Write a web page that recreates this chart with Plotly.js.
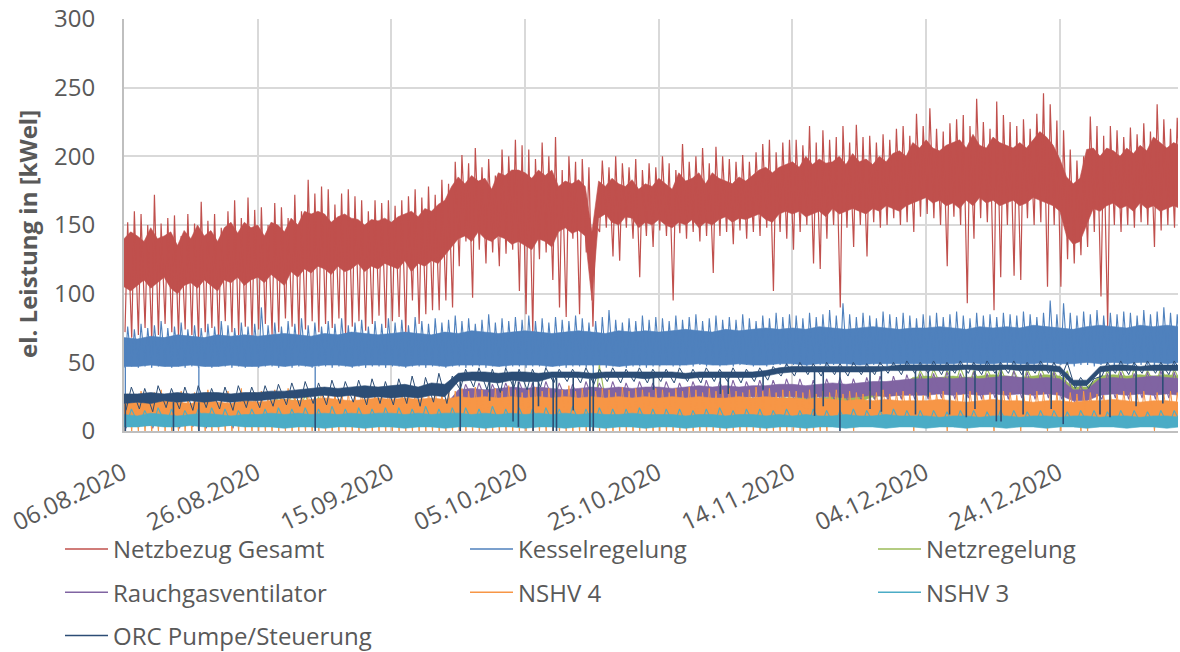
<!DOCTYPE html>
<html><head><meta charset="utf-8">
<script src="https://cdn.plot.ly/plotly-3.0.1.min.js"></script>
<style>html,body{margin:0;padding:0;background:#fff}#chart{width:1180px;height:652px}</style>
</head><body><div id="chart"></div>
<script>
// ---- data (kW el.) ----
const seriesNames = ['Netzbezug Gesamt','Kesselregelung','Netzregelung','Rauchgasventilator','NSHV 4','NSHV 3','ORC Pumpe/Steuerung'];
const seriesColors = ['#C0504D','#4F81BD','#9BBB59','#8064A2','#F79646','#4BACC6','#2C4D75'];
const startDay = '2020-08-06';
const xTickDates = ['06.08.2020','26.08.2020','15.09.2020','05.10.2020','25.10.2020','14.11.2020','04.12.2020','24.12.2020'];

// Netzbezug Gesamt: daily peak, upper band edge, lower band edge, daily minimum
const netzPeak = [152,160,158,150,172,151,155,157,142,158,151,167,153,158,148,160,168,155,170,161,163,150,166,163,155,172,160,183,173,178,176,165,173,176,171,168,160,168,166,168,164,168,171,176,170,178,172,183,180,196,201,195,206,192,198,186,205,200,212,208,205,198,210,200,214,190,200,196,198,192,150,197,192,200,195,192,198,190,195,192,200,195,190,209,196,200,206,195,207,200,198,196,201,196,203,209,212,203,210,212,212,208,222,210,219,212,214,222,210,223,214,215,210,216,212,220,222,215,231,222,235,220,218,224,227,230,222,242,225,220,240,230,225,222,227,220,231,246,238,226,219,205,197,200,229,222,215,222,219,214,221,216,224,218,238,227,220,228,224];
const netzHigh = [140,145,142,138,148,140,142,145,135,146,140,150,142,146,138,148,152,144,152,148,150,142,152,150,145,155,150,160,158,160,158,152,156,158,155,154,150,154,153,155,152,156,158,160,156,162,160,165,168,178,185,180,186,182,184,176,188,186,190,190,188,184,190,186,190,178,182,180,183,178,145,182,178,184,180,178,183,176,180,178,184,180,176,188,182,184,188,180,188,184,182,180,185,182,186,190,192,188,192,194,196,192,200,194,198,195,196,200,194,202,196,198,194,200,196,202,204,200,210,206,212,206,204,208,210,212,206,216,208,206,214,210,208,206,210,206,212,218,214,208,198,185,180,184,205,206,200,206,204,200,206,202,208,204,214,210,206,210,208];
const netzLow = [105,102,106,110,104,108,112,104,100,106,108,104,110,106,102,110,108,112,106,110,112,108,114,110,106,116,112,118,115,120,118,114,120,116,118,122,116,120,118,122,120,118,124,116,122,120,124,122,128,134,140,142,138,145,140,138,142,140,136,138,135,132,140,138,134,145,148,144,146,142,95,155,158,152,150,156,155,148,152,150,154,150,148,152,150,154,148,152,150,154,156,152,155,154,156,158,154,152,158,160,158,160,156,158,160,156,162,158,160,162,160,158,162,160,164,162,160,164,166,168,170,166,168,164,166,162,168,164,170,166,168,164,166,168,164,166,170,168,166,164,160,142,136,138,150,162,160,164,166,162,164,160,166,162,164,160,162,164,162];
const netzMin = [72,68,70,75,66,70,78,72,69,74,70,66,72,75,68,80,72,70,76,69,74,78,70,72,82,76,70,74,80,72,78,75,82,70,76,80,73,78,84,75,80,83,71,95,78,85,88,88,95,90,120,138,97,132,122,130,120,129,132,102,85,71,125,130,110,90,83,140,85,130,76,145,148,127,124,148,140,112,142,134,146,142,95,144,140,145,138,142,115,142,145,136,146,140,145,142,148,102,145,140,132,145,150,122,118,140,150,90,148,134,150,127,152,148,150,155,150,152,145,156,158,155,150,120,156,150,93,140,155,152,88,112,150,113,110,155,150,152,105,150,105,125,122,128,134,145,98,76,150,145,150,148,152,150,134,146,150,148,152];

// Kesselregelung: band every 2 days, daily peak / minimum, short drop-outs
const kesselHigh = [68,67,69,68,70,69,68,70,69,70,69,70,71,70,69,71,70,72,71,70,71,72,71,70,72,71,73,72,71,72,73,72,71,72,73,72,71,73,72,73,72,73,74,73,72,74,73,74,75,74,75,74,76,75,74,75,76,75,74,75,75,76,75,74,76,75,76,75,77,76,75,74,76,77,76,75,77,76,77,76];
const kesselLow = [47,47,48,47,47,48,47,47,48,47,47,48,47,48,47,48,48,47,48,48,48,47,48,48,47,48,48,48,47,48,48,48,47,48,48,48,48,47,48,48,48,48,48,49,48,48,49,48,48,49,49,48,49,49,49,48,49,49,49,49,49,49,49,50,49,49,50,49,49,50,49,49,50,49,50,49,50,50,49,50];
const kesselPeak = [76,74,78,75,77,80,75,76,79,74,77,75,78,76,80,77,75,79,76,78,90,77,79,76,80,78,82,77,79,76,80,78,82,77,79,81,76,80,78,82,79,81,77,83,80,78,82,79,81,84,80,82,78,81,85,79,82,80,83,81,84,80,82,79,83,81,80,84,82,79,80,83,88,81,79,82,80,84,81,83,82,80,84,81,83,85,80,82,84,81,83,81,85,82,80,84,82,86,83,85,84,82,86,83,85,88,84,93,85,83,86,84,82,87,85,83,86,84,82,85,84,86,83,85,87,84,82,86,84,85,83,86,85,84,87,85,83,86,95,85,93,86,84,87,85,88,84,86,85,87,86,84,88,85,87,90,86,85,84];
const kesselMin = [46,47,46,47,46,47,47,46,47,46,47,46,47,46,47,47,46,47,46,47,46,47,47,46,47,46,47,47,46,47,47,46,47,47,46,47,46,47,47,46,47,47,46,47,47,46,47,47,46,47,47,46,47,47,46,47,47,46,47,47,46,47,47,46,47,47,46,47,47,46,47,47,46,47,47,46,47,47,46,47,47,48,47,47,48,47,48,47,48,47,48,47,48,48,47,48,47,48,48,47,48,48,47,48,48,47,48,48,47,48,48,47,48,48,47,48,48,47,48,48,48,48,47,48,48,47,48,48,47,48,48,47,48,48,47,48,48,47,48,48,48,48,47,48,48,47,48,48,47,48,48,47,48,48,47,48,48,47,48];
const kesselDropDays = [0.2, 11.2, 28.6, 70.2];
const kesselDropVals = [0, 0, 2, 35];

// Netzregelung: every 2 days
const netzrHigh = [12,11,12,13,12,11,12,13,12,12,13,22,23,22,21,16,15,16,15,16,16,15,16,16,15,22,23,22,23,22,23,22,23,22,23,22,23,22,23,22,23,22,23,22,23,22,23,24,23,24,24,25,24,25,26,27,30,31,31,39,40,39,40,39,40,41,40,39,40,41,40,32,32,40,41,40,41,40,41,40];
const netzrLow = [7,6,7,8,7,6,7,8,7,7,8,17,18,17,16,10,9,10,9,10,10,9,10,10,9,16,17,16,17,16,17,16,17,16,17,16,17,16,17,16,17,16,17,16,17,16,17,18,17,18,18,19,18,19,20,21,25,26,26,34,35,34,35,34,35,36,35,34,35,36,35,27,27,35,36,35,36,35,36,35];
const netzrPeak = [15,14,15,16,15,14,15,16,15,15,16,26,27,26,25,19,18,19,18,19,19,18,19,19,18,26,27,26,27,26,27,26,27,26,27,48,27,26,27,26,27,26,27,26,27,26,27,28,27,28,28,29,28,29,30,31,33,34,34,44,45,44,46,44,45,46,44,45,46,44,44,34,34,44,46,45,44,46,45,44];
const netzrMin = [5,4,5,6,5,4,5,6,5,5,6,15,16,15,14,8,7,8,7,8,8,7,8,8,7,14,15,14,15,14,15,14,15,14,15,3,15,14,15,14,15,14,15,14,15,14,15,16,15,16,16,17,16,17,18,19,23,24,24,32,33,32,33,32,33,34,33,32,33,34,33,25,25,33,34,33,34,33,34,33];

// Rauchgasventilator: every 2 days
const rauchHigh = [12,13,12,14,13,12,14,13,12,14,13,14,15,14,15,16,15,16,15,16,16,15,17,16,18,30,31,30,31,32,31,32,31,30,31,32,31,32,31,32,32,31,32,33,32,33,32,33,33,34,34,33,34,35,34,35,36,36,37,38,38,39,38,39,38,39,40,39,38,39,38,30,30,38,39,38,39,40,39,38];
const rauchLow = [4,5,4,5,4,5,4,5,4,5,5,6,5,6,5,6,6,5,6,6,6,5,6,6,5,23,24,23,24,24,24,23,24,24,23,24,24,23,24,24,24,24,23,24,24,24,24,25,24,25,25,24,25,25,24,25,26,25,26,26,26,27,26,27,26,27,26,27,26,27,26,22,22,26,27,26,27,26,27,26];
const rauchPeak = [16,17,15,18,16,17,18,16,17,18,17,18,19,18,19,20,19,20,19,20,20,19,21,20,22,34,35,34,35,36,35,36,35,34,36,35,36,35,36,35,36,35,36,37,36,37,36,37,37,38,38,37,38,39,38,39,40,40,41,42,42,43,42,43,42,43,44,43,42,43,42,33,33,42,43,42,43,44,43,42];
const rauchMin = [2,3,2,3,2,3,2,3,2,3,3,4,3,4,3,4,4,3,4,4,4,3,4,4,3,20,21,20,21,21,21,20,21,21,20,21,21,20,21,21,21,21,20,21,21,21,21,22,21,22,22,21,22,22,21,22,23,22,23,23,23,24,23,24,23,24,23,24,23,24,23,19,19,23,24,23,24,23,24,23];

// NSHV 4: band every 2 days, daily peak / night minimum
const nshv4High = [20,21,20,22,21,20,22,21,20,22,21,22,23,22,23,24,23,22,23,24,23,24,23,24,23,25,24,25,24,25,24,25,24,25,24,25,24,25,24,25,24,25,24,25,24,24,25,24,25,24,24,23,24,23,22,23,22,23,22,22,22,23,22,21,22,23,22,22,21,22,22,21,22,22,23,22,21,22,22,21];
const nshv4Low = [8,9,8,9,8,9,8,9,8,9,9,10,9,10,9,10,10,9,10,10,10,9,10,10,9,10,10,10,9,10,10,10,9,10,10,10,10,9,10,10,10,10,10,9,10,10,9,10,10,9,9,9,9,8,9,9,8,9,9,9,9,9,8,9,9,9,8,9,9,8,9,9,8,9,9,9,8,9,9,9];
const nshv4Peak = [27,25,29,26,28,30,26,27,29,25,28,26,30,27,25,29,27,31,26,28,29,27,30,28,31,27,29,30,28,32,30,28,31,29,27,32,29,30,28,31,29,31,28,30,32,29,31,28,30,29,31,29,32,30,28,31,29,33,30,28,30,32,29,31,28,30,33,29,31,30,29,31,30,28,32,29,31,30,28,31,30,28,31,29,32,30,28,31,29,30,31,29,28,30,32,29,31,28,30,29,29,28,30,27,29,28,30,27,29,28,27,29,28,30,27,28,29,27,28,26,28,27,29,26,28,27,29,28,26,28,27,29,28,26,28,27,29,28,27,28,26,28,27,29,28,27,26,28,27,29,28,27,29,26,28,27,29,28,27];
const nshv4Min = [0,0,0,0,0,0,0,0,0,0,0,0,0,0,0,0,0,0,0,0,0,0,0,0,0,0,0,0,0,0,0,0,0,0,0,0,0,0,0,0,0,0,0,0,0,0,0,0,0,0,0,0,0,0,0,0,0,0,0,0,0,0,0,0,0,0,0,0,0,0,0,0,0,0,0,0,0,0,0,0,0,0,0,0,0,0,0,0,0,0,0,0,0,0,0,0,0,0,0,0,0,0,0,0,0,0,6,7,6,0,7,6,7,6,7,6,7,6,0,7,6,7,6,0,7,6,0,7,6,7,0,6,7,6,0,7,6,7,0,6,0,7,6,0,0,7,6,7,6,7,6,7,6,7,0,6,7,6,7];

// NSHV 3: every 2 days
const nshv3High = [12,11,13,12,11,12,13,12,11,12,12,13,12,13,12,13,12,13,12,13,13,12,13,12,13,13,12,13,12,13,12,13,12,13,12,13,12,12,13,12,12,12,11,12,12,11,12,12,11,12,11,12,11,11,12,11,11,12,11,11,11,10,11,11,10,11,11,10,11,11,10,11,11,10,11,11,10,11,11,10];
const nshv3Low = [3,3,4,3,3,4,3,3,4,3,3,3,2,3,3,2,3,3,2,3,3,2,3,3,2,3,3,2,3,3,2,3,3,2,3,3,2,3,3,2,3,3,2,3,3,2,3,3,2,3,3,2,3,3,2,3,3,2,3,3,2,3,3,2,3,3,2,3,3,2,3,3,2,3,3,2,3,3,2,3];
const nshv3Peak = [16,15,17,16,15,16,17,16,15,16,16,17,16,17,16,18,16,17,16,17,17,16,18,16,17,17,16,18,16,17,16,17,16,18,16,17,16,16,17,16,16,16,15,16,17,15,16,16,15,16,15,16,15,15,16,15,15,16,15,15,15,14,15,15,14,15,15,14,15,15,14,15,15,14,15,15,14,15,15,14];
const nshv3Min = [3,4,3,4,3,4,3,4,3,4,4,3,4,3,4,3,4,3,4,3,3,4,3,4,3,3,4,3,4,3,4,3,4,3,4,3,4,3,3,4,3,4,3,4,3,4,3,4,3,4,4,3,4,3,4,3,4,3,4,3,3,4,3,4,3,3,4,3,4,3,4,3,4,3,4,3,4,3,3,4];

// ORC Pumpe/Steuerung: every 2 days, plus drop-outs
const orcHigh = [27,27,28,27,28,27,28,28,27,28,28,29,29,30,31,32,31,32,33,32,33,34,32,35,34,42,43,43,42,43,43,42,43,43,43,42,43,43,43,43,43,43,42,43,43,43,43,43,44,46,47,47,47,47,47,47,47,47,48,48,48,48,48,48,48,48,48,48,48,48,47,37,37,47,48,48,47,48,48,48];
const orcLow = [20,21,20,22,21,22,21,22,21,22,22,23,24,24,25,26,25,26,24,25,24,25,24,26,25,36,37,36,35,37,36,36,39,39,39,38,39,39,39,38,39,39,38,39,39,39,39,39,40,42,43,43,43,43,43,43,43,44,44,44,44,44,44,45,44,44,45,44,44,44,43,33,33,43,44,44,44,44,44,44];
const orcPeak = [32,31,33,31,32,33,31,32,33,32,33,34,35,36,35,37,36,37,38,36,38,40,39,42,40,45,46,45,46,45,45,46,45,45,46,45,46,45,46,45,45,46,45,46,45,46,45,46,47,49,50,49,50,49,50,49,50,50,51,50,51,50,51,50,51,50,51,50,51,50,50,39,38,50,51,50,51,50,51,50];
const orcMin = [15,16,14,17,16,15,17,16,15,17,17,18,19,18,20,19,20,21,19,20,19,20,18,21,20,30,32,30,28,31,30,32,35,36,35,34,36,35,36,35,36,35,36,35,36,36,35,36,37,40,40,41,40,41,40,41,41,42,41,42,42,41,42,42,41,42,42,41,42,42,40,31,31,40,42,41,42,42,41,42];
const orcDropDays = [0.2,7.4,11.2,28.6,50.3,54.7,58.2,59,61.2,62,64.2,64.7,67.2,69.7,70.2,79.2,89.2,90.4,95.6,103.3,104.6,107.1,111.6,113.3,118.4,120.3,123.5,126,127.3,130.5,131.2,134.5,138.7,140.5,146,147.5,151.4,155.4];
const orcDropVals = [0,0,0,0,0,22,7,3,0,18,0,0,15,0,0,30,27,27,30,11,18,0,16,14,12,25,12,10,16,7,7,12,16,5,12,10,18,20];

// ---- helpers (turn day offsets into dates on the date axis) ----
const DAY_MS = 86400000;
const START_MS = Date.parse(startDay + 'T00:00:00Z');
function dayToDate(d) {
  return new Date(START_MS + Math.round(d * DAY_MS)).toISOString().slice(0, 19).replace('T', ' ');
}
function bandTrace(high, low, step, color) {
  const xs = [], ys = [];
  for (let i = 0; i < high.length; i++) { xs.push(dayToDate(i * step)); ys.push(high[i]); }
  for (let i = low.length - 1; i >= 0; i--) { xs.push(dayToDate(i * step)); ys.push(low[i]); }
  return {type: 'scatter', mode: 'lines', x: xs, y: ys, fill: 'toself', fillcolor: color,
          line: {color: color, width: 0.6}, showlegend: false, hoverinfo: 'skip'};
}
function zigTrace(peak, min, step, color, width) {
  const xs = [], ys = [];
  for (let i = 0; i < peak.length; i++) {
    xs.push(dayToDate(i * step + 0.15 * step)); ys.push(min[i]);
    xs.push(dayToDate(i * step + 0.55 * step)); ys.push(peak[i]);
  }
  return {type: 'scatter', mode: 'lines', x: xs, y: ys, line: {color: color, width: width},
          showlegend: false, hoverinfo: 'skip'};
}
function dropTrace(days, vals, levelArr, step, color, width) {
  const xs = [], ys = [];
  for (let i = 0; i < days.length; i++) {
    const lvl = levelArr[Math.min(levelArr.length - 1, Math.round(days[i] / step))];
    xs.push(dayToDate(days[i]), dayToDate(days[i]), null);
    ys.push(lvl, vals[i], null);
  }
  return {type: 'scatter', mode: 'lines', x: xs, y: ys, line: {color: color, width: width},
          showlegend: false, hoverinfo: 'skip'};
}

const C = seriesColors;
const traces = [
  bandTrace(netzHigh, netzLow, 1, C[0]),
  zigTrace(netzPeak, netzMin, 1, C[0], 1.2),
  bandTrace(kesselHigh, kesselLow, 2, C[1]),
  zigTrace(kesselPeak, kesselMin, 1, C[1], 1.1),
  dropTrace(kesselDropDays, kesselDropVals, kesselLow, 2, C[1], 1.3),
  bandTrace(netzrHigh, netzrLow, 2, C[2]),
  zigTrace(netzrPeak, netzrMin, 2, C[2], 1.1),
  bandTrace(rauchHigh, rauchLow, 2, C[3]),
  zigTrace(rauchPeak, rauchMin, 2, C[3], 1.1),
  bandTrace(nshv4High, nshv4Low, 2, C[4]),
  zigTrace(nshv4Peak, nshv4Min, 1, C[4], 1.0),
  bandTrace(nshv3High, nshv3Low, 2, C[5]),
  zigTrace(nshv3Peak, nshv3Min, 2, C[5], 1.1),
  bandTrace(orcHigh, orcLow, 2, C[6]),
  zigTrace(orcPeak, orcMin, 2, C[6], 1.0),
  dropTrace(orcDropDays, orcDropVals, orcLow, 2, C[6], 1.6)
];
// legend entries (three columns as in the reference)
const legendOf = ['legend', 'legend2', 'legend3', 'legend', 'legend2', 'legend3', 'legend'];
seriesNames.forEach((n, i) => {
  traces.push({type: 'scatter', mode: 'lines', x: [null], y: [null], name: n,
               line: {color: C[i], width: 1.5}, legend: legendOf[i], legendgroup: n, hoverinfo: 'skip'});
});

const textColor = '#595959';
const font = {family: '"Open Sans", "Noto Sans", sans-serif', size: 24, color: textColor};
function legendAt(xpx) {
  return {x: (xpx - 124) / 1054, y: (431 - 527) / 412, xanchor: 'left', yanchor: 'top', orientation: 'v',
          traceorder: 'grouped', tracegroupgap: 9, itemwidth: 43, font: font,
          bgcolor: 'rgba(0,0,0,0)', borderwidth: 0};
}
const layout = {
  width: 1180, height: 652,
  margin: {l: 124, r: 2, t: 19, b: 221, pad: 0, autoexpand: false},
  paper_bgcolor: '#ffffff', plot_bgcolor: '#ffffff',
  font: font, showlegend: true, hovermode: false,
  xaxis: {type: 'date', range: [dayToDate(0), dayToDate(157.67)], tick0: dayToDate(0), dtick: 20 * DAY_MS,
          tickformat: '%d.%m.%Y', tickangle: -26, showgrid: true, gridcolor: '#D9D9D9', gridwidth: 2,
          showline: true, linecolor: '#BFBFBF', linewidth: 2, ticks: '', zeroline: false,
          ticklabelstandoff: 17, ticklabelshift: -1,
          automargin: false, fixedrange: true, tickfont: font},
  yaxis: {range: [0, 300], tick0: 0, dtick: 50, showgrid: true, gridcolor: '#D9D9D9', gridwidth: 2,
          showline: true, linecolor: '#BFBFBF', linewidth: 2, ticks: '', zeroline: false,
          ticklabelstandoff: 22, automargin: false, fixedrange: true, tickfont: font},
  annotations: [{text: '<b>el. Leistung in [kWel]</b>', textangle: -90, xref: 'paper', yref: 'paper',
                 x: (27 - 124) / 1054, y: (431 - 234) / 412, xanchor: 'center', yanchor: 'middle',
                 showarrow: false, font: font}],
  legend: legendAt(60), legend2: legendAt(465), legend3: legendAt(873)
};
Plotly.newPlot('chart', traces, layout, {staticPlot: true, displayModeBar: false});
</script>
</body></html>
